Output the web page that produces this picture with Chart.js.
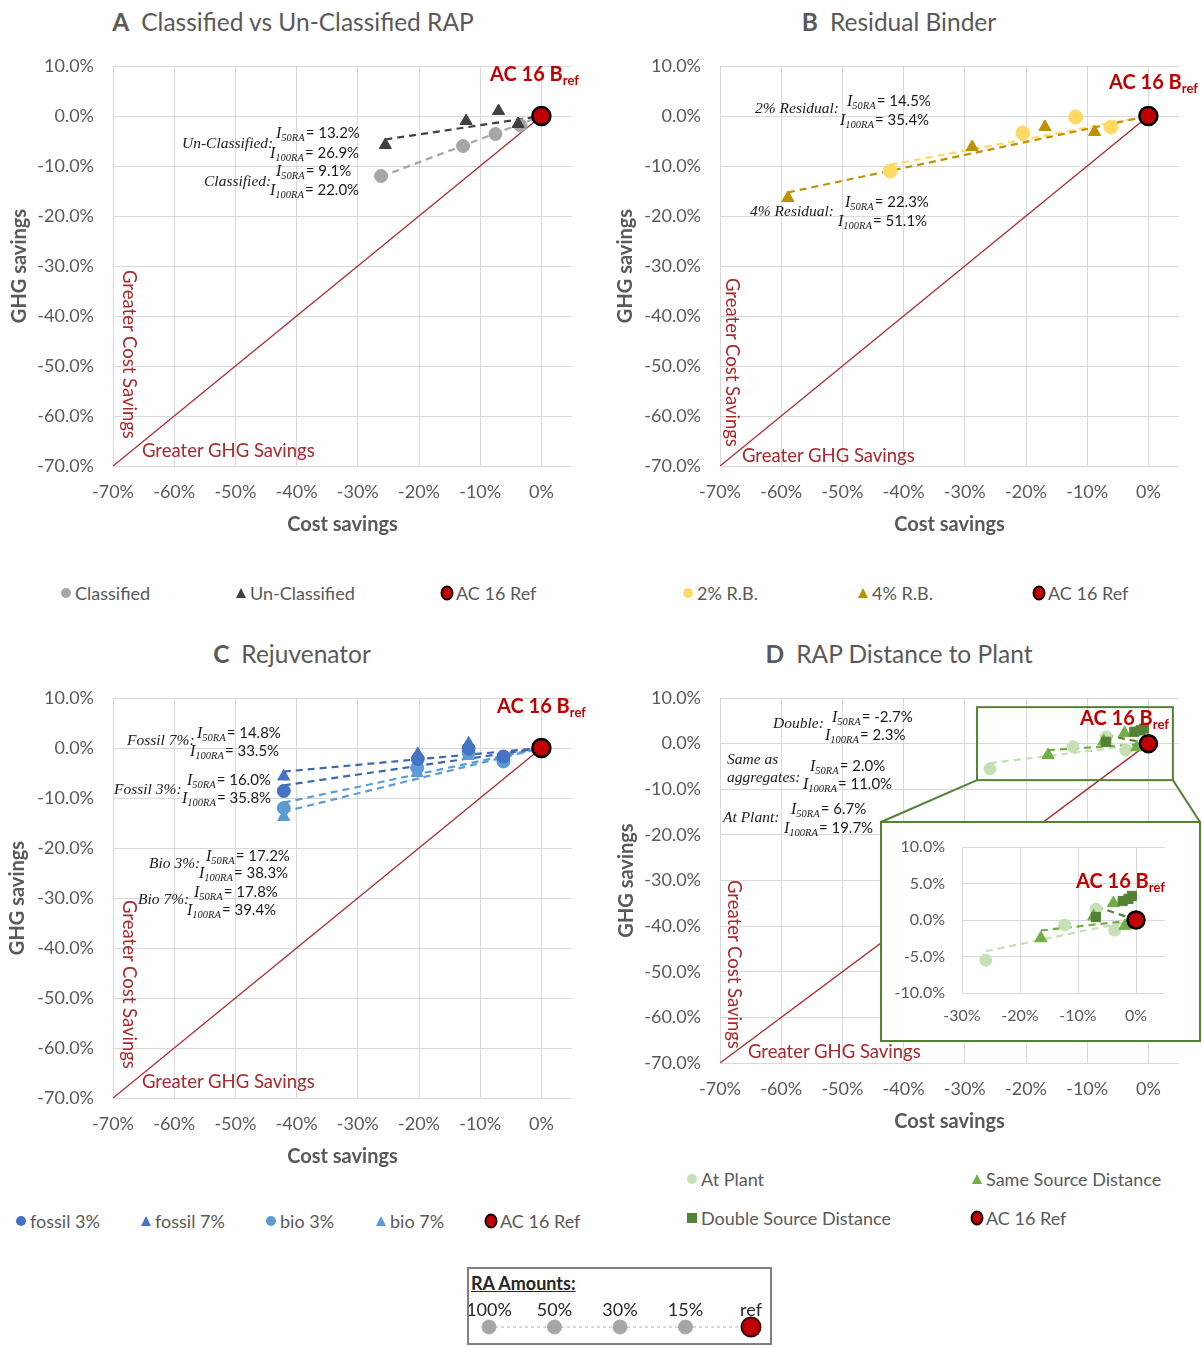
<!DOCTYPE html>
<html>
<head>
<meta charset="utf-8">
<title>RAP cost and GHG savings</title>
<script src="https://cdn.jsdelivr.net/npm/chart.js@4.4.1/dist/chart.umd.min.js"></script>
<style>
  html, body { margin: 0; padding: 0; background: #fff; }
  body { position: relative; width: 1202px; height: 1347px; overflow: hidden;
         font-family: Lato, "Open Sans", sans-serif; color: #595959; }
  canvas { position: absolute; }
  .t { position: absolute; white-space: nowrap; transform: translateY(-50%); line-height: 1.15; }
  .ptitle { font-size: 24.5px; transform: translate(-50%, -50%); }
  .ptitle b { margin-right: 12px; }
  .ref { color: #c00000; font-weight: bold; font-size: 20px; }
  .ref sub { font-size: 13px; vertical-align: -4px; line-height: 0; }
  .red { color: #a8282b; font-size: 18.5px; }
  .vert { writing-mode: vertical-rl; transform: none; line-height: 22px; }
  .lbl { font-family: "Liberation Serif", serif; font-style: italic; font-size: 15.5px; color: #1a1a1a; }
  .eq { font-size: 15px; color: #1a1a1a; }
  .eq i { font-family: "Liberation Serif", serif; font-size: 16px; }
  .eq sub { font-family: "Liberation Serif", serif; font-style: italic; font-size: 10.5px;
            vertical-align: -3px; line-height: 0; margin-right: 1px; }
  .leg { font-size: 18px; color: #595959; }
  .mk { position: absolute; transform: translate(-50%, -50%); }
  #insetFrame { position: absolute; left: 880px; top: 821px; width: 321px; height: 221px;
                box-sizing: border-box; border: 2px solid #548235; background: #fff; }
  #insetFrame canvas { left: 0; top: 0; }
  #raBox { position: absolute; left: 467px; top: 1267px; width: 305px; height: 78px;
           box-sizing: border-box; border: 2px solid #7f7f7f; background: #fff; }
  #raBox .raHead { position: absolute; left: 2px; top: 3px; font-weight: bold; font-size: 18px;
                   color: #262626; text-decoration: underline; }
  #raBox canvas { left: 0; top: 20px; }
</style>
</head>
<body>

<canvas id="chartA" width="600" height="510" style="left:0;top:40px"></canvas>
<canvas id="chartB" width="600" height="510" style="left:602px;top:40px"></canvas>
<canvas id="chartC" width="600" height="510" style="left:0;top:672px"></canvas>
<canvas id="chartD" width="600" height="480" style="left:602px;top:672px"></canvas>
<div id="insetFrame"><canvas id="chartInset" width="317" height="217"></canvas></div>
<div id="raBox"><div class="raHead">RA Amounts:</div><canvas id="chartRA" width="301" height="54"></canvas></div>

<!-- panel titles -->
<div class="t ptitle" style="left:293px;top:22px"><b>A</b>Classified vs Un-Classified RAP</div>
<div class="t ptitle" style="left:899px;top:22px"><b>B</b>Residual Binder</div>
<div class="t ptitle" style="left:292px;top:654px"><b>C</b>Rejuvenator</div>
<div class="t ptitle" style="left:899px;top:654px"><b>D</b>RAP Distance to Plant</div>

<!-- reference mix labels -->
<div class="t ref" style="left:490px;top:73px">AC 16 B<sub>ref</sub></div>
<div class="t ref" style="left:1109px;top:81px">AC 16 B<sub>ref</sub></div>
<div class="t ref" style="left:497px;top:705px">AC 16 B<sub>ref</sub></div>
<div class="t ref" style="left:1080px;top:717px">AC 16 B<sub>ref</sub></div>
<div class="t ref" style="left:1076px;top:880px">AC 16 B<sub>ref</sub></div>

<!-- region captions -->
<div class="t red vert" style="left:119px;top:270px">Greater Cost Savings</div>
<div class="t red" style="left:142px;top:451px">Greater GHG Savings</div>
<div class="t red vert" style="left:722px;top:278px">Greater Cost Savings</div>
<div class="t red" style="left:742px;top:456px">Greater GHG Savings</div>
<div class="t red vert" style="left:119px;top:900px">Greater Cost Savings</div>
<div class="t red" style="left:142px;top:1082px">Greater GHG Savings</div>
<div class="t red vert" style="left:724px;top:880px">Greater Cost Savings</div>
<div class="t red" style="left:748px;top:1052px">Greater GHG Savings</div>

<div id="notes"></div>
<div id="legends"></div>

<script>
// ---- axis ticks (percent) ----
const X_TICKS = [-70, -60, -50, -40, -30, -20, -10, 0];
const Y_TICKS = [10, 0, -10, -20, -30, -40, -50, -60, -70];
const INSET_X_TICKS = [-30, -20, -10, 0];
const INSET_Y_TICKS = [10, 5, 0, -5, -10];
const RA_LABELS = ['100%', '50%', '30%', '15%', 'ref'];

// ---- reference mix and parity line (cost savings = GHG savings) ----
const REF_COST = [0];
const REF_GHG = [0];
const PARITY_COST = [-70, 0];
const PARITY_GHG = [-70, 0];

// ---- A: classified vs un-classified RAP (100%, 50%, 30%, 15% RA) ----
const classifiedCost = [-26.2, -12.8, -7.5, -3.4];
const classifiedGhg = [-12.0, -6.0, -3.6, -1.9];
const unclassifiedCost = [-25.5, -12.3, -7.0, -3.8];
const unclassifiedGhg = [-5.8, -1.0, 1.0, -1.6];

// ---- B: residual binder ----
const rb2Cost = [-42.2, -20.5, -11.9, -6.1];
const rb2Ghg = [-11.0, -3.4, -0.2, -2.2];
const rb4Cost = [-58.9, -28.8, -16.9, -8.8];
const rb4Ghg = [-16.4, -6.2, -2.2, -3.2];

// ---- C: rejuvenator ----
const fossil3Cost = [-42.1, -20.2, -11.9, -6.2];
const fossil3Ghg = [-8.6, -2.2, -0.1, -1.7];
const fossil7Cost = [-42.1, -20.2, -11.9, -6.2];
const fossil7Ghg = [-5.7, -1.2, 0.9, -1.8];
const bio3Cost = [-42.1, -20.3, -11.9, -6.2];
const bio3Ghg = [-12.0, -4.0, -0.9, -2.7];
const bio7Cost = [-42.1, -20.3, -12.0, -6.2];
const bio7Ghg = [-13.8, -5.0, -1.6, -2.5];

// ---- D: RAP distance to plant ----
const atPlantCost = [-25.9, -12.3, -6.9, -3.7];
const atPlantGhg = [-5.5, -0.7, 1.5, -1.4];
const sameSourceCost = [-16.4, -7.3, -3.9, -1.9];
const sameSourceGhg = [-2.5, 0.5, 2.3, -0.8];
const doubleSourceCost = [-6.9, -2.3, -1.3, -0.7];
const doubleSourceGhg = [0.4, 2.6, 2.9, 3.3];

// region of panel D enlarged in the inset
const ZOOM_COST = [-28, 4];
const ZOOM_GHG = [-8, 8];

// RA amount legend row
const RA_LEVEL = RA_LABELS.map(() => 0);

const FONT = 'Lato, "Open Sans", sans-serif';
const GRID = '#d9d9d9';
const AXIS_TXT = '#595959';
const REF_FILL = '#c00000';

const toPoints = (xs, ys) => xs.map((x, i) => ({ x, y: ys[i] }));

// linear trend forced through the reference mix (origin)
function trendLine(xs, ys) {
  let sxy = 0, sxx = 0;
  xs.forEach((x, i) => { sxy += x * ys[i]; sxx += x * x; });
  const slope = sxy / sxx;
  const x0 = Math.min(...xs);
  return [{ x: x0, y: slope * x0 }, { x: 0, y: 0 }];
}

function markerSet(s, r) {
  return {
    label: s.label, data: toPoints(s.xs, s.ys), pointStyle: s.style,
    pointRadius: s.r || r, pointHoverRadius: s.r || r,
    backgroundColor: s.color, borderColor: s.color, borderWidth: 1, showLine: false
  };
}
function trendSet(s) {
  return {
    data: trendLine(s.xs, s.ys), showLine: true, pointRadius: 0,
    borderColor: s.trend, borderWidth: 2.2, borderDash: [7, 5], fill: false
  };
}
function refSet(r) {
  return {
    label: 'AC 16 Ref', data: toPoints(REF_COST, REF_GHG), pointStyle: 'circle',
    pointRadius: r, pointHoverRadius: r, backgroundColor: REF_FILL,
    borderColor: '#000', borderWidth: 2.5, clip: false
  };
}
function paritySet() {
  return {
    data: toPoints(PARITY_COST, PARITY_GHG), showLine: true, pointRadius: 0,
    borderColor: '#a8282b', borderWidth: 1.3, fill: false
  };
}
function buildDatasets(series, refR, markR, parity) {
  const ds = [refSet(refR)];
  series.forEach(s => ds.push(markerSet(s, markR)));
  series.forEach(s => ds.push(trendSet(s)));
  if (parity) ds.push(paritySet());
  return ds;
}

function axisTitle(text, pad) {
  return text
    ? { display: true, text, color: AXIS_TXT, font: { family: FONT, size: 20, weight: 'bold' }, padding: pad }
    : { display: false };
}

// fixed axis sizes so the plot area is set by the layout padding alone
function fixSize(prop, size) {
  return s => {
    s[prop] = size;
    s.paddingTop = 0; s.paddingBottom = 0; s.paddingLeft = 0; s.paddingRight = 0;
  };
}

function panelOptions(o) {
  return {
    responsive: false, animation: false, events: [],
    layout: { padding: o.pad },
    plugins: { legend: { display: false }, tooltip: { enabled: false } },
    scales: {
      x: {
        type: 'linear', min: o.xMin, max: o.xMax,
        afterBuildTicks: s => { s.ticks = o.xTicks.map(v => ({ value: v })); },
        afterFit: fixSize('height', o.xAxisH),
        grid: { color: GRID, lineWidth: 1, drawTicks: false },
        border: { display: false },
        ticks: { padding: o.xTickPad, color: AXIS_TXT, font: { family: FONT, size: o.tick },
                 maxRotation: 0, autoSkip: false, callback: v => v + '%' },
        title: axisTitle(o.xTitle, { top: 0, bottom: o.xTitlePad })
      },
      y: {
        type: 'linear', min: o.yMin, max: o.yMax,
        afterBuildTicks: s => { s.ticks = o.yTicks.map(v => ({ value: v })); },
        afterFit: fixSize('width', o.yAxisW),
        grid: { color: GRID, lineWidth: 1, drawTicks: false },
        border: { display: false },
        ticks: { padding: o.yTickPad, color: AXIS_TXT, font: { family: FONT, size: o.tick },
                 autoSkip: false, callback: v => v.toFixed(1) + '%' },
        title: axisTitle(o.yTitle, { top: o.yTitlePad, bottom: 0 })
      }
    }
  };
}

const mainAxes = {
  xMin: -70, xMax: 5, yMin: -70, yMax: 10, xTicks: X_TICKS, yTicks: Y_TICKS, tick: 18,
  xTickPad: 15, yTickPad: 19, xTitle: 'Cost savings', yTitle: 'GHG savings'
};

// ---- series styling ----
const seriesA = [
  { label: 'Un-Classified', xs: unclassifiedCost, ys: unclassifiedGhg, style: 'triangle', color: '#404040', trend: '#404040', r: 7 },
  { label: 'Classified', xs: classifiedCost, ys: classifiedGhg, style: 'circle', color: '#a6a6a6', trend: '#a6a6a6' }
];
const seriesB = [
  { label: '4% R.B.', xs: rb4Cost, ys: rb4Ghg, style: 'triangle', color: '#bf9000', trend: '#bf9000', r: 7 },
  { label: '2% R.B.', xs: rb2Cost, ys: rb2Ghg, style: 'circle', color: '#ffd966', trend: '#ffd966' }
];
const seriesC = [
  { label: 'fossil 7%', xs: fossil7Cost, ys: fossil7Ghg, style: 'triangle', color: '#4472c4', trend: '#3d67b1', r: 7 },
  { label: 'fossil 3%', xs: fossil3Cost, ys: fossil3Ghg, style: 'circle', color: '#4472c4', trend: '#3d67b1' },
  { label: 'bio 3%', xs: bio3Cost, ys: bio3Ghg, style: 'circle', color: '#5b9bd5', trend: '#5b9bd5' },
  { label: 'bio 7%', xs: bio7Cost, ys: bio7Ghg, style: 'triangle', color: '#5b9bd5', trend: '#5b9bd5', r: 7 }
];
const seriesD = [
  { label: 'Double Source Distance', xs: doubleSourceCost, ys: doubleSourceGhg, style: 'rect', color: '#548235', trend: '#548235', r: 6.5 },
  { label: 'Same Source Distance', xs: sameSourceCost, ys: sameSourceGhg, style: 'triangle', color: '#70ad47', trend: '#70ad47', r: 7 },
  { label: 'At Plant', xs: atPlantCost, ys: atPlantGhg, style: 'circle', color: '#c5e0b4', trend: '#c5e0b4' }
];

// zoom window in panel D with leader lines to the inset frame
const zoomWindow = {
  id: 'zoomWindow',
  afterDatasetsDraw(chart) {
    const { ctx, scales: { x, y } } = chart;
    const l = x.getPixelForValue(ZOOM_COST[0]), r = x.getPixelForValue(ZOOM_COST[1]);
    const t = y.getPixelForValue(ZOOM_GHG[1]), b = y.getPixelForValue(ZOOM_GHG[0]);
    const frame = document.getElementById('insetFrame');
    const cv = chart.canvas;
    const fx = frame.offsetLeft - cv.offsetLeft + 1, fy = frame.offsetTop - cv.offsetTop + 1;
    const fw = frame.offsetWidth - 2;
    ctx.save();
    ctx.strokeStyle = '#548235';
    ctx.lineWidth = 2;
    ctx.strokeRect(l, t, r - l, b - t);
    ctx.beginPath();
    ctx.moveTo(l, b); ctx.lineTo(fx, fy);
    ctx.moveTo(r, b); ctx.lineTo(fx + fw, fy);
    ctx.stroke();
    ctx.restore();
  }
};

new Chart(document.getElementById('chartA'), {
  type: 'scatter',
  data: { datasets: buildDatasets(seriesA, 9, 6.5, true) },
  options: panelOptions({ ...mainAxes, pad: { top: 26, right: 28, left: 0, bottom: 0 },
    yAxisW: 113, xAxisH: 84, xTitlePad: 13, yTitlePad: 8 })
});
new Chart(document.getElementById('chartB'), {
  type: 'scatter',
  data: { datasets: buildDatasets(seriesB, 9, 7, true) },
  options: panelOptions({ ...mainAxes, pad: { top: 26, right: 23, left: 0, bottom: 0 },
    yAxisW: 118, xAxisH: 84, xTitlePad: 13, yTitlePad: 12 })
});
new Chart(document.getElementById('chartC'), {
  type: 'scatter',
  data: { datasets: buildDatasets(seriesC, 9, 6.5, true) },
  options: panelOptions({ ...mainAxes, pad: { top: 26, right: 28, left: 0, bottom: 0 },
    yAxisW: 113, xAxisH: 84, xTitlePad: 13, yTitlePad: 6 })
});
new Chart(document.getElementById('chartD'), {
  type: 'scatter',
  data: { datasets: buildDatasets(seriesD, 8.5, 6, true) },
  options: panelOptions({ ...mainAxes, pad: { top: 26, right: 23, left: 0, bottom: 0 },
    yAxisW: 118, xAxisH: 89, xTitlePad: 18, yTitlePad: 13 }),
  plugins: [zoomWindow]
});
new Chart(document.getElementById('chartInset'), {
  type: 'scatter',
  data: { datasets: buildDatasets(seriesD, 8.5, 6, false) },
  options: panelOptions({ xMin: -30, xMax: 5, yMin: -10, yMax: 10, xTicks: INSET_X_TICKS, yTicks: INSET_Y_TICKS,
    tick: 16, xTickPad: 13, yTickPad: 17, xTitle: null, yTitle: null,
    pad: { top: 24, right: 34, left: 0, bottom: 0 }, yAxisW: 80, xAxisH: 47 })
});

// RA amounts key
new Chart(document.getElementById('chartRA'), {
  type: 'line',
  data: {
    labels: RA_LABELS,
    datasets: [{
      data: RA_LEVEL, clip: false,
      borderColor: '#b0b0b0', borderWidth: 1, borderDash: [3, 3],
      pointRadius: [7, 7, 7, 7, 9.5], pointHoverRadius: [7, 7, 7, 7, 9.5],
      pointBackgroundColor: ['#a6a6a6', '#a6a6a6', '#a6a6a6', '#a6a6a6', REF_FILL],
      pointBorderColor: ['#a6a6a6', '#a6a6a6', '#a6a6a6', '#a6a6a6', '#3a0000'],
      pointBorderWidth: [1, 1, 1, 1, 2]
    }]
  },
  options: {
    responsive: false, animation: false, events: [],
    layout: { padding: { left: 20, right: 19, top: 0, bottom: 12 } },
    plugins: { legend: { display: false }, tooltip: { enabled: false } },
    scales: {
      x: { position: 'top', offset: false, afterFit: fixSize('height', 34),
           grid: { display: false }, border: { display: false },
           ticks: { padding: -6, color: '#262626', font: { family: FONT, size: 18 }, maxRotation: 0 } },
      y: { display: false, min: -1, max: 1 }
    }
  }
});

// ---- italic index annotations ----
const NOTES = [
  ['lbl', 'Un-Classified:', 182, 143], ['eq', '50RA', '13.2%', 276, 133], ['eq', '100RA', '26.9%', 270, 153],
  ['lbl', 'Classified:', 204, 181], ['eq', '50RA', '9.1%', 276, 171], ['eq', '100RA', '22.0%', 270, 190],
  ['lbl', '2% Residual:', 755, 108], ['eq', '50RA', '14.5%', 847, 101], ['eq', '100RA', '35.4%', 840, 120],
  ['lbl', '4% Residual:', 750, 211], ['eq', '50RA', '22.3%', 845, 202], ['eq', '100RA', '51.1%', 838, 221],
  ['lbl', 'Fossil 7%:', 127, 740], ['eq', '50RA', '14.8%', 197, 733], ['eq', '100RA', '33.5%', 190, 751],
  ['lbl', 'Fossil 3%:', 114, 789], ['eq', '50RA', '16.0%', 187, 780], ['eq', '100RA', '35.8%', 182, 798],
  ['lbl', 'Bio 3%:', 149, 863], ['eq', '50RA', '17.2%', 206, 856], ['eq', '100RA', '38.3%', 199, 873],
  ['lbl', 'Bio 7%:', 138, 899], ['eq', '50RA', '17.8%', 194, 892], ['eq', '100RA', '39.4%', 187, 910],
  ['lbl', 'Double:', 773, 723], ['eq', '50RA', '-2.7%', 832, 717], ['eq', '100RA', '2.3%', 825, 735],
  ['lbl', 'Same as', 727, 759], ['lbl', 'aggregates:', 727, 777], ['eq', '50RA', '2.0%', 810, 766], ['eq', '100RA', '11.0%', 803, 784],
  ['lbl', 'At Plant:', 723, 817], ['eq', '50RA', '6.7%', 791, 809], ['eq', '100RA', '19.7%', 784, 828]
];
const notes = document.getElementById('notes');
NOTES.forEach(n => {
  const d = document.createElement('div');
  if (n[0] === 'lbl') {
    d.className = 't lbl';
    d.textContent = n[1];
    d.style.left = n[2] + 'px'; d.style.top = n[3] + 'px';
  } else {
    d.className = 't eq';
    const i = document.createElement('i'); i.textContent = 'I';
    const sub = document.createElement('sub'); sub.textContent = n[1];
    d.append(i, sub, document.createTextNode('= ' + n[2]));
    d.style.left = n[3] + 'px'; d.style.top = n[4] + 'px';
  }
  notes.appendChild(d);
});

// ---- legends ----
const LEGEND_ITEMS = [
  ['Classified', 'circle', '#a6a6a6', 66, 593], ['Un-Classified', 'triangle', '#404040', 241, 593], ['AC 16 Ref', 'ref', REF_FILL, 447, 593],
  ['2% R.B.', 'circle', '#ffd966', 688, 593], ['4% R.B.', 'triangle', '#bf9000', 863, 593], ['AC 16 Ref', 'ref', REF_FILL, 1039, 593],
  ['fossil 3%', 'circle', '#4472c4', 21, 1221], ['fossil 7%', 'triangle', '#4472c4', 146, 1221], ['bio 3%', 'circle', '#5b9bd5', 271, 1221],
  ['bio 7%', 'triangle', '#5b9bd5', 381, 1221], ['AC 16 Ref', 'ref', REF_FILL, 491, 1221],
  ['At Plant', 'circle', '#c5e0b4', 692, 1179], ['Same Source Distance', 'triangle', '#70ad47', 977, 1179],
  ['Double Source Distance', 'square', '#548235', 692, 1218], ['AC 16 Ref', 'ref', REF_FILL, 977, 1218]
];
const legends = document.getElementById('legends');
LEGEND_ITEMS.forEach(([text, shape, color, x, y]) => {
  const m = document.createElement('div');
  m.className = 'mk';
  m.style.left = x + 'px'; m.style.top = y + 'px';
  if (shape === 'circle') {
    Object.assign(m.style, { width: '10px', height: '10px', borderRadius: '50%', background: color });
  } else if (shape === 'square') {
    Object.assign(m.style, { width: '10px', height: '10px', background: color });
  } else if (shape === 'triangle') {
    Object.assign(m.style, { width: '0', height: '0', borderLeft: '5px solid transparent',
      borderRight: '5px solid transparent', borderBottom: '10px solid ' + color });
  } else {
    Object.assign(m.style, { width: '9px', height: '11px', borderRadius: '50%', background: color,
      border: '2px solid #1a0000' });
  }
  legends.appendChild(m);
  const t = document.createElement('div');
  t.className = 't leg';
  t.textContent = text;
  t.style.left = (x + 9) + 'px'; t.style.top = y + 'px';
  legends.appendChild(t);
});
</script>
</body>
</html>
